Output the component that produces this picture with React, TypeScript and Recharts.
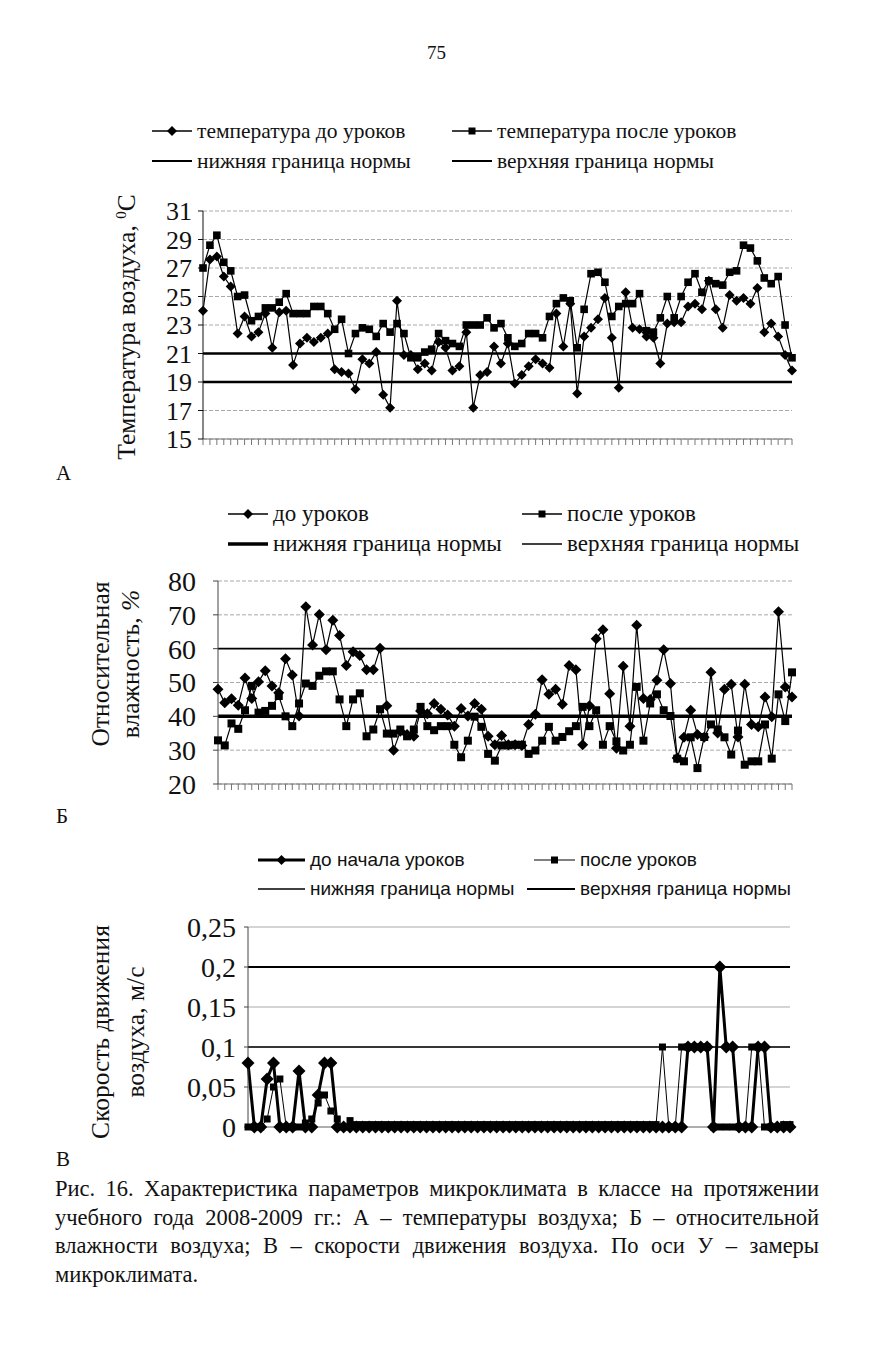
import React from "react";
import { CartesianGrid, Line, LineChart, XAxis, YAxis } from "recharts";

// measurement number (x axis has ticks only, no labels)
const tempBefore = [
  24.0, 27.6, 27.8, 26.4, 25.7, 22.4, 23.6, 22.2, 22.5, 23.8,
  21.4, 23.9, 24.0, 20.2, 21.7, 22.1, 21.8, 22.1, 22.4, 19.9,
  19.7, 19.6, 18.5, 20.6, 20.3, 21.1, 18.1, 17.2, 24.7, 20.9,
  20.9, 19.9, 20.3, 19.8, 21.8, 21.4, 19.8, 20.1, 22.5, 17.2,
  19.5, 19.7, 21.5, 20.3, 21.7, 18.9, 19.5, 20.1, 20.6, 20.3,
  20.0, 23.8, 21.5, 24.5, 18.2, 22.2, 22.8, 23.4, 24.9, 22.1,
  18.6, 25.3, 22.8, 22.7, 22.2, 22.1, 20.3, 23.1, 23.2, 23.2,
  24.3, 24.5, 24.1, 26.1, 24.1, 22.8, 25.1, 24.7, 24.9, 24.5,
  25.6, 22.5, 23.1, 22.2, 20.9, 19.8,
];
const tempAfter = [
  27.0, 28.6, 29.3, 27.4, 26.8, 25.0, 25.1, 23.3, 23.6, 24.2,
  24.2, 24.6, 25.2, 23.8, 23.8, 23.8, 24.3, 24.3, 23.8, 22.7,
  23.4, 21.0, 22.4, 22.8, 22.7, 22.2, 23.1, 22.5, 23.1, 22.4,
  20.7, 20.7, 21.1, 21.3, 22.4, 21.9, 21.7, 21.5, 23.0, 23.0,
  23.0, 23.5, 22.8, 23.1, 22.1, 21.5, 21.7, 22.4, 22.4, 22.1,
  23.6, 24.5, 24.9, 24.7, 21.4, 24.1, 26.6, 26.7, 26.0, 23.6,
  24.3, 24.5, 24.5, 25.2, 22.6, 22.5, 23.5, 25.0, 23.5, 25.0,
  26.0, 26.6, 25.3, 26.1, 25.9, 25.8, 26.7, 26.8, 28.6, 28.4,
  27.5, 26.3, 25.9, 26.4, 23.0, 20.7,
];
const tempLow = 19;
const tempHigh = 21;
const tempTicks = [15, 17, 19, 21, 23, 25, 27, 29, 31];

const humBefore = [
  48.0, 44.0, 45.2, 43.3, 51.3, 45.3, 50.2, 53.5, 49.0, 47.0,
  57.0, 52.2, 40.1, 72.4, 61.1, 70.1, 59.7, 68.4, 63.9, 55.0,
  59.1, 58.0, 53.8, 53.8, 60.1, 43.1, 30.0, 35.6, 34.6, 34.1,
  41.6, 40.8, 43.8, 42.1, 40.4, 37.1, 42.3, 40.1, 43.8, 42.1,
  34.1, 31.6, 34.3, 31.6, 31.6, 31.4, 37.6, 40.6, 50.8, 46.5,
  48.0, 43.6, 55.0, 53.8, 31.6, 43.1, 62.9, 65.6, 46.7, 30.6,
  54.8, 37.1, 66.9, 45.3, 45.0, 50.7, 59.7, 49.7, 27.7, 33.8,
  41.8, 34.6, 33.8, 53.0, 35.1, 48.0, 49.5, 33.9, 49.5, 37.6,
  36.9, 45.7, 39.9, 70.9, 48.7, 45.7,
];
const humAfter = [
  32.9, 31.4, 37.9, 36.3, 41.8, 49.0, 41.1, 41.6, 43.1, 46.0,
  40.0, 37.1, 43.8, 49.7, 49.0, 52.0, 53.3, 53.3, 45.0, 37.1,
  45.0, 46.8, 34.1, 36.1, 42.1, 34.9, 34.9, 36.1, 34.1, 36.1,
  42.8, 37.1, 35.9, 37.1, 37.1, 31.6, 27.9, 32.8, 39.9, 36.9,
  28.9, 26.9, 31.4, 31.4, 31.6, 31.6, 28.9, 29.9, 32.8, 36.9,
  32.8, 33.9, 35.6, 37.1, 42.8, 37.1, 41.8, 31.6, 37.1, 32.6,
  29.9, 31.6, 48.7, 32.8, 43.8, 46.5, 41.8, 40.1, 27.5, 26.7,
  33.8, 24.7, 33.9, 37.6, 36.1, 33.8, 28.7, 35.8, 25.7, 26.7,
  26.7, 37.6, 27.5, 46.5, 38.6, 53.0,
];
const humLow = 40;
const humHigh = 60;
const humTicks = [20, 30, 40, 50, 60, 70, 80];

const speedBefore = [
  0.08, 0, 0, 0.06, 0.08, 0, 0, 0, 0.07, 0,
  0, 0.04, 0.08, 0.08, 0, 0, 0, 0, 0, 0,
  0, 0, 0, 0, 0, 0, 0, 0, 0, 0,
  0, 0, 0, 0, 0, 0, 0, 0, 0, 0,
  0, 0, 0, 0, 0, 0, 0, 0, 0, 0,
  0, 0, 0, 0, 0, 0, 0, 0, 0, 0,
  0, 0, 0, 0, 0, 0, 0, 0, 0, 0.1,
  0.1, 0.1, 0.1, 0, 0.2, 0.1, 0.1, 0, 0, 0,
  0.1, 0.1, 0, 0, 0, 0,
];
const speedAfter = [
  0, 0, 0, 0.01, 0.05, 0.06, 0, 0, 0, 0.005,
  0.01, 0.03, 0.04, 0.02, 0.01, 0, 0.008, 0.003, 0.003, 0.003,
  0.003, 0.003, 0.003, 0.003, 0.003, 0.003, 0.003, 0.003, 0.003, 0.003,
  0.003, 0.003, 0.003, 0.003, 0.003, 0.003, 0.003, 0.003, 0.003, 0.003,
  0.003, 0.003, 0.003, 0.003, 0.003, 0.003, 0.003, 0.003, 0.003, 0.003,
  0.003, 0.003, 0.003, 0.003, 0.003, 0.003, 0.003, 0.003, 0.003, 0.003,
  0.003, 0.003, 0.003, 0.003, 0.003, 0.1, 0, 0, 0.1, 0.1,
  0.1, 0.1, 0.1, 0, 0, 0, 0, 0, 0, 0.1,
  0.1, 0, 0, 0, 0.003, 0.003,
];
const speedLow = 0.1;
const speedHigh = 0.2;
const speedTicks = [0, 0.05, 0.1, 0.15, 0.2, 0.25];

const tempData = tempBefore.map((v, i) => ({ n: i + 1, before: v, after: tempAfter[i], low: tempLow, high: tempHigh }));
const humData = humBefore.map((v, i) => ({ n: i + 1, before: v, after: humAfter[i], low: humLow, high: humHigh }));
const speedData = speedBefore.map((v, i) => ({ n: i + 1, before: v, after: speedAfter[i], low: speedLow, high: speedHigh }));

const SERIF = '"Liberation Serif", "Times New Roman", serif';
const SANS = '"Liberation Sans", Arial, sans-serif';

const diamond = (s: number) => (p: any) => {
  const { cx, cy, index } = p;
  if (cx == null || cy == null) return <g key={index} />;
  return <path key={index} d={`M${cx},${cy - s}L${cx + s},${cy}L${cx},${cy + s}L${cx - s},${cy}Z`} fill="#000" />;
};
const square = (s: number) => (p: any) => {
  const { cx, cy, index } = p;
  if (cx == null || cy == null) return <g key={index} />;
  return <rect key={index} x={cx - s} y={cy - s} width={s * 2} height={s * 2} fill="#000" />;
};

function LegendItem({ x, y, text, mark, lw = 1.5, len = 40, font = SERIF, size = 19 }: any) {
  const mid = len / 2;
  return (
    <div style={{ position: "absolute", left: x, top: y - 14, height: 28, display: "flex", alignItems: "center", fontFamily: font, fontSize: size, whiteSpace: "nowrap", color: "#111" }}>
      <svg width={len} height={16} style={{ flex: "none" }}>
        <line x1={0} y1={8} x2={len} y2={8} stroke="#000" strokeWidth={lw} />
        {mark === "d" && <path d={`M${mid},3L${mid + 5},8L${mid},13L${mid - 5},8Z`} fill="#000" />}
        {mark === "s" && <rect x={mid - 3.5} y={4.5} width={7} height={7} fill="#000" />}
      </svg>
      <span style={{ marginLeft: 5 }}>{text}</span>
    </div>
  );
}

function VLabel({ x, y, size = 25, children }: any) {
  return (
    <div style={{ position: "absolute", left: x, top: y, transform: "translate(-50%, -50%) rotate(-90deg)", whiteSpace: "nowrap", fontFamily: SERIF, fontSize: size, color: "#111" }}>
      {children}
    </div>
  );
}

const tickA = { fontFamily: SERIF, fontSize: 26, fill: "#111" };
const tickB = { fontFamily: SERIF, fontSize: 28, fill: "#111" };
const tickC = { fontFamily: SERIF, fontSize: 28, fill: "#111" };

export default function App() {
  return (
    <div style={{ position: "absolute", left: 0, top: 0, width: 873, height: 1350, background: "#fff", color: "#111" }}>
      <div style={{ position: "absolute", left: 0, width: 873, top: 42, textAlign: "center", fontFamily: SERIF, fontSize: 19 }}>75</div>

      {/* A: temperature */}
      <LegendItem x={152} y={131} text="температура до уроков" mark="d" size={21.5} />
      <LegendItem x={452} y={131} text="температура после уроков" mark="s" size={21.5} />
      <LegendItem x={152} y={161} text="нижняя граница нормы" lw={2} size={21.5} />
      <LegendItem x={452} y={161} text="верхняя граница нормы" lw={2} size={21.5} />
      <VLabel x={127} y={327} size={25.5}>
        Температура воздуха, <sup style={{ fontSize: 15 }}>0</sup>С
      </VLabel>
      <div style={{ position: "absolute", left: 140, top: 195 }}>
        <LineChart width={670} height={270} data={tempData} margin={{ top: 16, right: 18, left: 0, bottom: 0 }}>
          <CartesianGrid vertical={false} stroke="#aaa" strokeDasharray="4 2" />
          <XAxis dataKey="n" height={26} interval={0} tickSize={6} tickFormatter={() => ""} stroke="#777" />
          <YAxis width={63} domain={[15, 31]} ticks={tempTicks} interval={0} tickSize={5} tickMargin={6} stroke="#111" tick={tickA} />
          <Line dataKey="low" stroke="#000" strokeWidth={2.5} dot={false} isAnimationActive={false} />
          <Line dataKey="high" stroke="#000" strokeWidth={2.5} dot={false} isAnimationActive={false} />
          <Line dataKey="after" stroke="#000" strokeWidth={1.2} dot={square(3.8)} isAnimationActive={false} />
          <Line dataKey="before" stroke="#000" strokeWidth={1.2} dot={diamond(5)} isAnimationActive={false} />
        </LineChart>
      </div>
      <div style={{ position: "absolute", left: 56, top: 461, fontFamily: SERIF, fontSize: 21 }}>А</div>

      {/* Б: humidity */}
      <LegendItem x={228} y={514} text="до уроков" mark="d" size={23} />
      <LegendItem x={522} y={514} text="после уроков" mark="s" size={23} />
      <LegendItem x={228} y={544} text="нижняя граница нормы" lw={3.5} size={23} />
      <LegendItem x={522} y={544} text="верхняя граница нормы" lw={1.5} size={23} />
      <VLabel x={101} y={664} size={25.5}>Относительная</VLabel>
      <VLabel x={131} y={664} size={25.5}>
        влажность, <i>%</i>
      </VLabel>
      <div style={{ position: "absolute", left: 140, top: 565 }}>
        <LineChart width={670} height={245} data={humData} margin={{ top: 16, right: 18, left: 0, bottom: 0 }}>
          <CartesianGrid vertical={false} stroke="#aaa" strokeDasharray="4 2" />
          <XAxis dataKey="n" height={26} interval={0} tickSize={6} tickFormatter={() => ""} stroke="#777" />
          <YAxis width={78} domain={[20, 80]} ticks={humTicks} interval={0} tickSize={5} tickMargin={17} stroke="#444" tick={tickB} />
          <Line dataKey="low" stroke="#000" strokeWidth={3.5} dot={false} isAnimationActive={false} />
          <Line dataKey="high" stroke="#000" strokeWidth={1.8} dot={false} isAnimationActive={false} />
          <Line dataKey="after" stroke="#000" strokeWidth={1.2} dot={square(4)} isAnimationActive={false} />
          <Line dataKey="before" stroke="#000" strokeWidth={1.2} dot={diamond(5.5)} isAnimationActive={false} />
        </LineChart>
      </div>
      <div style={{ position: "absolute", left: 56, top: 804, fontFamily: SERIF, fontSize: 21 }}>Б</div>

      {/* В: air speed */}
      <LegendItem x={258} y={860} text="до начала уроков" mark="d" lw={3} len={47} font={SANS} size={19} />
      <LegendItem x={534} y={860} text="после уроков" mark="s" lw={1} len={41} font={SANS} size={19} />
      <LegendItem x={258} y={889} text="нижняя граница нормы" lw={1.5} len={47} font={SANS} size={19} />
      <LegendItem x={527} y={889} text="верхняя граница нормы" lw={2} len={48} font={SANS} size={19} />
      <VLabel x={101} y={1032} size={25.5}>Скорость движения</VLabel>
      <VLabel x={136} y={1032} size={25.5}>воздуха, м/с</VLabel>
      <div style={{ position: "absolute", left: 140, top: 911 }}>
        <LineChart width={668} height={242} data={speedData} margin={{ top: 16, right: 18, left: 0, bottom: 0 }}>
          <CartesianGrid vertical={false} stroke="#aaa" />
          <XAxis dataKey="n" height={26} interval={0} tickLine={false} tickFormatter={() => ""} stroke="#888" />
          <YAxis
            width={108}
            domain={[0, 0.25]}
            ticks={speedTicks}
            interval={0}
            tickSize={4}
            tickMargin={8}
            stroke="#444"
            tick={tickC}
            tickFormatter={(v: number) => String(v).replace(".", ",")}
          />
          <Line dataKey="low" stroke="#000" strokeWidth={1.5} dot={false} isAnimationActive={false} />
          <Line dataKey="high" stroke="#000" strokeWidth={2} dot={false} isAnimationActive={false} />
          <Line dataKey="after" stroke="#000" strokeWidth={1} dot={square(3.5)} isAnimationActive={false} />
          <Line dataKey="before" stroke="#000" strokeWidth={3} dot={diamond(6.5)} isAnimationActive={false} />
        </LineChart>
      </div>
      <div style={{ position: "absolute", left: 56, top: 1147, fontFamily: SERIF, fontSize: 21 }}>В</div>

      <div style={{ position: "absolute", left: 55, top: 1175, width: 764, fontFamily: SERIF, fontSize: 22.5, lineHeight: "28.5px", color: "#111" }}>
        <div style={{ textAlign: "justify", textAlignLast: "justify" }}>
          Рис. 16. Характеристика параметров микроклимата в классе на протяжении
        </div>
        <div style={{ textAlign: "justify", textAlignLast: "justify" }}>
          учебного года 2008-2009 гг.: А – температуры воздуха; Б – относительной
        </div>
        <div style={{ textAlign: "justify", textAlignLast: "justify" }}>
          влажности воздуха; В – скорости движения воздуха. По оси У – замеры
        </div>
        <div>микроклимата.</div>
      </div>
    </div>
  );
}
